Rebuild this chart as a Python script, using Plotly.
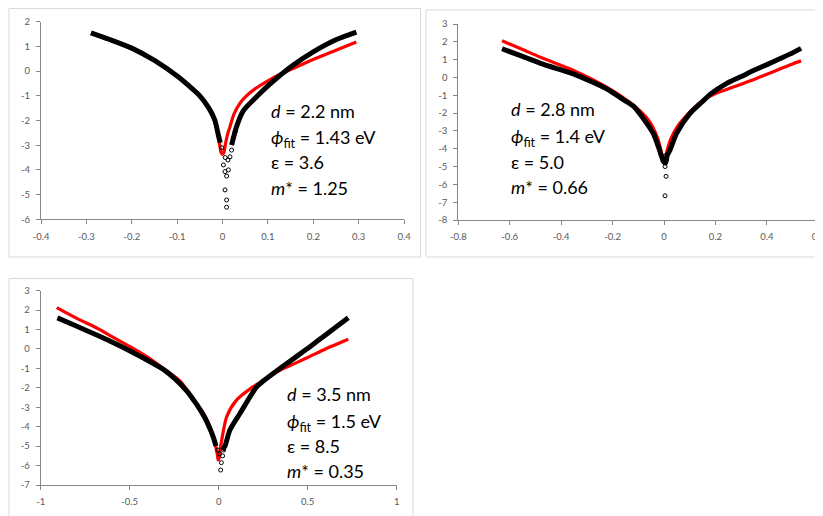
import plotly.graph_objects as go

# the page puts the figure 8 px in from the top-left corner
OFF = 8
W, H = 823 - OFF, 516 - OFF

# ---- panel 1 : d = 2.2 nm ----
p1_data_x = [-0.29, -0.25, -0.2, -0.15, -0.1, -0.075, -0.05, -0.03, -0.017, -0.009, -0.005, None,
             0.02, 0.031, 0.046, 0.075, 0.1, 0.125, 0.15, 0.2, 0.25, 0.295]
p1_data_y = [1.55, 1.29, 0.93, 0.43, -0.2, -0.58, -1.0, -1.5, -1.98, -2.6, -2.9, None,
             -3.0, -2.25, -1.6, -1.04, -0.6, -0.2, 0.17, 0.78, 1.27, 1.58]
p1_dots_x = [0.002, 0.0055, 0.013, 0.009, 0.0055, 0.009, 0.009, 0.0165, 0.02, 0.012, 0.024, 0.028, -0.002, 0.006]
p1_dots_y = [-3.8, -4.07, -4.0, -4.25, -4.81, -5.22, -5.51, -3.47, -3.2, -3.6, -2.7, -2.45, -3.1, -3.5]
p1_fit_x = [-0.29, -0.25, -0.2, -0.15, -0.1, -0.075, -0.05, -0.03, -0.02, -0.012, -0.007, -0.003, 0.0,
            0.003, 0.007, 0.012, 0.0165, 0.025, 0.0386, 0.05, 0.068, 0.1, 0.125, 0.15, 0.2, 0.25, 0.295]
p1_fit_y = [1.53, 1.27, 0.92, 0.42, -0.22, -0.58, -1.0, -1.5, -1.9, -2.4, -2.9, -3.3, -3.37,
            -3.3, -2.9, -2.5, -2.25, -1.75, -1.3, -1.05, -0.77, -0.4, -0.15, 0.06, 0.47, 0.84, 1.18]
p1_xticks = [-0.4, -0.3, -0.2, -0.1, 0, 0.1, 0.2, 0.3, 0.4]
p1_xlabels = ["-0.4", "-0.3", "-0.2", "-0.1", "0", "0.1", "0.2", "0.3", "0.4"]
p1_yticks = [2, 1, 0, -1, -2, -3, -4, -5, -6]
p1_ylabels = ["2", "1", "0", "-1", "-2", "-3", "-4", "-5", "-6"]
p1_text = ["<i>d</i> = 2.2 nm", "<i>ϕ</i><sub>fit</sub> = 1.43 eV", "ε = 3.6", "<i>m</i>* = 1.25"]

# ---- panel 2 : d = 2.8 nm ----
p2_data_x = [-0.63, -0.55, -0.48, -0.4, -0.35, -0.22, -0.158, -0.12, -0.067, -0.04, -0.022, -0.009, -0.003,
             0.006, 0.012, 0.023, 0.049, 0.101, 0.15, 0.179, 0.244, 0.3, 0.35, 0.4, 0.45, 0.5, 0.533]
p2_data_y = [1.61, 1.18, 0.79, 0.42, 0.19, -0.66, -1.25, -1.6, -2.58, -3.2, -3.89, -4.45, -4.7,
             -4.8, -4.4, -4.08, -3.14, -2.02, -1.35, -0.95, -0.33, 0.05, 0.4, 0.72, 1.05, 1.38, 1.63]
p2_dots_x = [0.004, 0.008, 0.004, 0.01, 0.005]
p2_dots_y = [-5.0, -5.55, -6.64, -4.6, -4.4]
p2_fit_x = [-0.63, -0.55, -0.48, -0.35, -0.22, -0.12, -0.06, -0.025, -0.01, -0.004, 0.0, 0.004, 0.01,
            0.025, 0.05, 0.1, 0.15, 0.2, 0.256, 0.3, 0.35, 0.4, 0.45, 0.5, 0.533]
p2_fit_y = [2.06, 1.57, 1.13, 0.38, -0.57, -1.55, -2.4, -3.4, -4.2, -4.65, -4.75, -4.65, -4.2,
            -3.5, -2.8, -1.95, -1.3, -0.9, -0.61, -0.38, -0.11, 0.18, 0.47, 0.76, 0.93]
p2_xticks = [-0.8, -0.6, -0.4, -0.2, 0, 0.2, 0.4, 0.6]
p2_xlabels = ["-0.8", "-0.6", "-0.4", "-0.2", "0", "0.2", "0.4", "0.6"]
p2_yticks = [3, 2, 1, 0, -1, -2, -3, -4, -5, -6, -7, -8]
p2_ylabels = ["3", "2", "1", "0", "-1", "-2", "-3", "-4", "-5", "-6", "-7", "-8"]
p2_text = ["<i>d</i> = 2.8 nm", "<i>ϕ</i><sub>fit</sub> = 1.4 eV", "ε = 5.0", "<i>m</i>* = 0.66"]

# ---- panel 3 : d = 3.5 nm ----
p3_data_x = [-0.906, -0.8, -0.685, -0.6, -0.498, -0.4, -0.311, -0.25, -0.18, -0.124, -0.08, -0.049, -0.03, -0.015,
             None, 0.02, 0.035, 0.063, 0.12, 0.213, 0.25, 0.344, 0.438, 0.513, 0.6, 0.728]
p3_data_y = [1.6, 1.18, 0.72, 0.36, -0.1, -0.58, -1.05, -1.5, -2.15, -2.85, -3.5, -4.1, -4.55, -5.0,
             None, -5.2, -5.0, -4.17, -3.31, -1.95, -1.65, -1.0, -0.38, 0.12, 0.72, 1.61]
p3_dots_x = [0.011, 0.022, 0.005, 0.015, -0.005, 0.028]
p3_dots_y = [-6.23, -5.5, -5.4, -5.85, -5.2, -5.2]
p3_fit_x = [-0.91, -0.8, -0.685, -0.6, -0.498, -0.4, -0.311, -0.217, -0.124, -0.08, -0.049, -0.021, -0.008,
            -0.003, 0.003, 0.008, 0.017, 0.045, 0.1, 0.194, 0.25, 0.344, 0.438, 0.513, 0.6, 0.728]
p3_fit_y = [2.13, 1.59, 1.08, 0.64, 0.12, -0.42, -1.0, -1.65, -2.8, -3.4, -4.0, -4.85, -5.4,
            -5.71, -5.6, -5.2, -4.68, -3.48, -2.63, -1.94, -1.62, -1.1, -0.7, -0.38, 0.0, 0.5]
p3_xticks = [-1, -0.5, 0, 0.5, 1]
p3_xlabels = ["-1", "-0.5", "0", "0.5", "1"]
p3_yticks = [3, 2, 1, 0, -1, -2, -3, -4, -5, -6, -7]
p3_ylabels = ["3", "2", "1", "0", "-1", "-2", "-3", "-4", "-5", "-6", "-7"]
p3_text = ["<i>d</i> = 3.5 nm", "<i>ϕ</i><sub>fit</sub> = 1.5 eV", "ε = 8.5", "<i>m</i>* = 0.35"]


def px(x):
    return (x - OFF) / W


def py(y):
    return 1 - (y - OFF) / H


fig = go.Figure()

panels = [
    # data, dots, fit, ticks, plot-area pixels (l, r, top, bottom), frame pixels, text pos
    dict(dx=p1_data_x, dy=p1_data_y, ox=p1_dots_x, oy=p1_dots_y, fx=p1_fit_x, fy=p1_fit_y,
         xt=p1_xticks, xl=p1_xlabels, yt=p1_yticks, yl=p1_ylabels, text=p1_text,
         area=(41, 404, 21.7, 219.3), frame=(9, 420.5, 8.5, 257), tx=269, ty=[98, 124, 149, 175]),
    dict(dx=p2_data_x, dy=p2_data_y, ox=p2_dots_x, oy=p2_dots_y, fx=p2_fit_x, fy=p2_fit_y,
         xt=p2_xticks, xl=p2_xlabels, yt=p2_yticks, yl=p2_ylabels, text=p2_text,
         area=(458.3, 818.3, 24, 220), frame=(426, 830, 10, 257), tx=509, ty=[96, 123, 149, 174]),
    dict(dx=p3_data_x, dy=p3_data_y, ox=p3_dots_x, oy=p3_dots_y, fx=p3_fit_x, fy=p3_fit_y,
         xt=p3_xticks, xl=p3_xlabels, yt=p3_yticks, yl=p3_ylabels, text=p3_text,
         area=(40.7, 396.7, 290.7, 485), frame=(9, 413, 278.5, 530), tx=285, ty=[381, 408, 433, 458]),
]

tick_font = dict(family="Lato", size=9.5, color="#595959")
axis_col = "#868686"

for i, p in enumerate(panels, start=1):
    xa = "x" if i == 1 else f"x{i}"
    ya = "y" if i == 1 else f"y{i}"
    fig.add_trace(go.Scatter(x=p["fx"], y=p["fy"], mode="lines", xaxis=xa, yaxis=ya,
                             line=dict(color="#ff0000", width=3.2, shape="spline", smoothing=0.7)))
    fig.add_trace(go.Scatter(x=p["dx"], y=p["dy"], mode="lines", xaxis=xa, yaxis=ya,
                             line=dict(color="black", width=5, shape="spline", smoothing=0.7)))
    fig.add_trace(go.Scatter(x=p["ox"], y=p["oy"], mode="markers", xaxis=xa, yaxis=ya,
                             marker=dict(symbol="circle-open", size=4, color="black",
                                         line=dict(width=1, color="black"))))

    l, r, t, b = p["area"]
    xkey = "xaxis" if i == 1 else f"xaxis{i}"
    ykey = "yaxis" if i == 1 else f"yaxis{i}"
    fig.update_layout({
        xkey: dict(domain=[px(l), min(px(r), 1)], anchor=ya, range=[p["xt"][0], p["xt"][-1]],
                   tickvals=p["xt"], ticktext=p["xl"], showgrid=False, zeroline=False,
                   showline=True, linecolor=axis_col, linewidth=1, ticks="outside",
                   ticklen=4, tickcolor=axis_col, tickfont=tick_font, ticklabelstandoff=4,
                   ticklabeloverflow="allow", automargin=False),
        ykey: dict(domain=[max(py(b), 0), py(t)], anchor=xa, range=[p["yt"][-1], p["yt"][0]],
                   tickvals=p["yt"], ticktext=p["yl"], showgrid=False, zeroline=False,
                   showline=True, linecolor=axis_col, linewidth=1, ticks="outside",
                   ticklen=4, tickcolor=axis_col, tickfont=tick_font, ticklabelstandoff=4,
                   automargin=False),
    })

    fl, fr, ft, fb = p["frame"]
    fig.add_shape(type="rect", xref="paper", yref="paper",
                  x0=px(fl), x1=px(fr), y0=py(fb), y1=py(ft),
                  line=dict(color="#d9d9d9", width=1), fillcolor="rgba(0,0,0,0)")

    for line, ty in zip(p["text"], p["ty"]):
        fig.add_annotation(text=line, xref="paper", yref="paper", x=px(p["tx"]), y=py(ty),
                           xanchor="left", yanchor="top", align="left", showarrow=False,
                           font=dict(family="Lato", size=18, color="black"))

fig.update_layout(
    width=W,
    height=H,
    margin=dict(l=0, r=0, t=0, b=0),
    showlegend=False,
    plot_bgcolor="white",
    paper_bgcolor="white",
)

fig.write_html("out.html")
